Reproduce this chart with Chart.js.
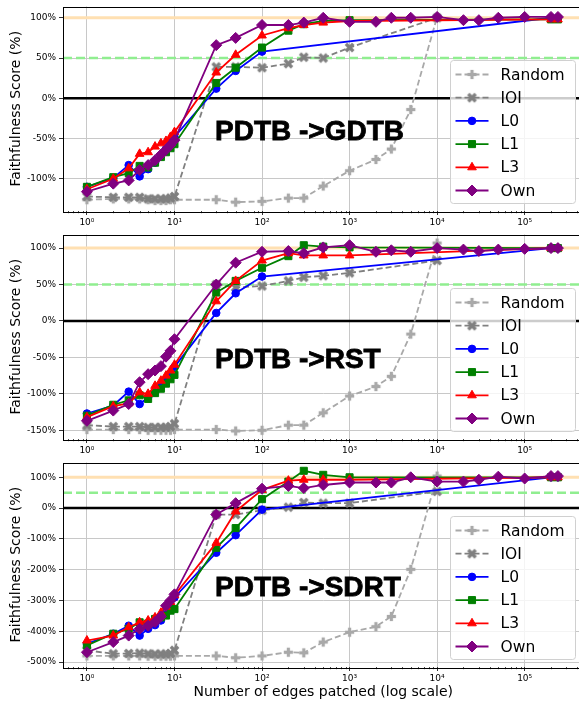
<!DOCTYPE html>
<html>
<head>
<meta charset="utf-8">
<script src="https://cdn.jsdelivr.net/npm/chart.js@4.4.0/dist/chart.umd.min.js"></script>
<style>
html, body { margin: 0; padding: 0; background: #fff; overflow: hidden; }
#wrap { position: relative; width: 579px; height: 705px; overflow: hidden; }
#wrap canvas { position: absolute; left: 0; }
</style>
</head>
<body>
<div id="wrap">
  <canvas id="c0" width="590" height="228" style="top:0"></canvas>
  <canvas id="c1" width="590" height="228" style="top:228px"></canvas>
  <canvas id="c2" width="590" height="249" style="top:456px"></canvas>
</div>
<script>
// x positions (edges patched) for each method
var edgesAll = [1, 2, 3, 4, 5, 6, 7, 8, 9, 10, 30, 50, 100, 200, 300, 500, 1000, 2000, 3000, 5000, 10000, 20000, 30000, 50000, 100000, 200000, 240000];
var edgesRandom = [1, 2, 3, 4, 5, 6, 7, 8, 9, 10, 30, 50, 100, 200, 300, 500, 1000, 2000, 3000, 5000, 10000];
var edgesIOI = [1, 2, 3, 4, 5, 6, 7, 8, 9, 10, 30, 50, 100, 200, 300, 500, 1000, 10000];
var edgesL0 = [1, 2, 3, 4, 5, 6, 7, 8, 9, 10, 30, 50, 100, 200000, 240000];
var edgesL = [1, 2, 3, 4, 5, 6, 7, 8, 9, 10, 30, 50, 100, 200, 300, 500, 1000, 200000, 240000];

var seriesNames = ["Random", "IOI", "L0", "L1", "L3", "Own"];
var panelNames = ["PDTB ->GDTB", "PDTB ->RST", "PDTB ->SDRT"];

// PDTB -> GDTB
var random1 = [-126, -125, -125, -125, -126, -127, -127, -127, -126, -126, -126, -129, -128, -124, -124, -109, -90, -76, -63, -14, 101];
var ioi1 = [-122, -123, -123, -123, -125, -125, -125, -125, -124, -122, 39, 39, 38, 43, 51, 50, 63, 100];
var l0_1 = [-110, -99, -83, -97, -88, -80, -71, -63, -56, -48, 12, 34, 58, 100, 100];
var l1_1 = [-110, -98, -93, -84, -86, -80, -73, -67, -62, -57, 19, 38, 63, 84, 92, 96, 97, 98, 98];
var l3_1 = [-113, -100, -87, -69, -67, -60, -56, -53, -48, -42, 32, 54, 78, 87, 91, 94, 96, 98, 98];
var own1 = [-116, -106, -102, -89, -83, -77, -70, -64, -58, -52, 66, 75, 91, 91, 94, 100, 95, 95, 100, 100, 101, 97, 97, 100, 101, 101, 101];

// PDTB -> RST
var random2 = [-149, -149, -149, -149, -150, -150, -150, -150, -150, -149, -149, -151, -150, -143, -143, -126, -103, -90, -76, -18, 107];
var ioi2 = [-143, -145, -145, -145, -146, -146, -146, -146, -145, -141, 50, 46, 48, 55, 60, 62, 66, 83];
var l0_2 = [-127, -116, -97, -114, -105, -98, -90, -82, -72, -63, 11, 38, 61, 100, 100];
var l1_2 = [-130, -115, -109, -102, -107, -99, -93, -86, -80, -74, 39, 55, 73, 89, 104, 102, 101, 100, 100];
var l3_2 = [-132, -117, -113, -98, -100, -89, -82, -75, -68, -60, 27, 55, 83, 93, 90, 90, 90, 100, 100];
var own2 = [-137, -123, -114, -84, -73, -68, -62, -49, -41, -25, 50, 80, 95, 96, 93, 101, 104, 95, 97, 95, 100, 98, 96, 98, 99, 100, 100];

// PDTB -> SDRT
var random3 = [-480, -480, -480, -480, -481, -481, -481, -481, -481, -480, -480, -486, -480, -468, -470, -435, -403, -385, -352, -199, 104];
var ioi3 = [-462, -473, -472, -471, -473, -474, -474, -474, -472, -462, -21, -21, -7, 3, 18, 16, 16, 54];
var l0_3 = [-441, -408, -382, -414, -392, -380, -365, -345, -320, -290, -145, -88, -5, 100, 100];
var l1_3 = [-446, -408, -392, -371, -375, -360, -355, -349, -333, -328, -129, -65, 29, 86, 121, 108, 100, 100, 100];
var l3_3 = [-430, -414, -387, -371, -365, -355, -340, -320, -305, -283, -113, -11, 59, 89, 92, 92, 92, 100, 100];
var own3 = [-468, -435, -414, -392, -382, -370, -352, -317, -300, -280, -21, 16, 63, 72, 65, 75, 83, 83, 83, 100, 86, 86, 92, 102, 96, 104, 104];

var yTicks1 = [-100, -50, 0, 50, 100];
var yTicks2 = [-150, -100, -50, 0, 50, 100];
var yTicks3 = [-500, -400, -300, -200, -100, 0, 100];
var xTicks = [1, 10, 100, 1000, 10000, 100000];
var xTickLabels = ["10\u2070", "10\u00b9", "10\u00b2", "10\u00b3", "10\u2074", "10\u2075"];
var refValues = [100, 50, 0];

var panels = [
    { ys: [random1, ioi1, l0_1, l1_1, l3_1, own1], yTicks: yTicks1, yMin: -140, yMax: 114 },
    { ys: [random2, ioi2, l0_2, l1_2, l3_2, own2], yTicks: yTicks2, yMin: -162, yMax: 118.7 },
    { ys: [random3, ioi3, l0_3, l1_3, l3_3, own3], yTicks: yTicks3, yMin: -516, yMax: 148 }
];
var xsList = [edgesRandom, edgesIOI, edgesL0, edgesL, edgesL, edgesAll];

Chart.defaults.color = "#000";
Chart.defaults.font.family = "DejaVu Sans";

// filled plus / X markers like matplotlib 'P' and 'X'
function plusMarker(color, rot, a, b) {
    var s = 13;
    var c = document.createElement("canvas");
    c.width = s;
    c.height = s;
    var g = c.getContext("2d");
    g.translate(s / 2, s / 2);
    g.rotate(rot);
    g.fillStyle = color;
    g.fillRect(-a, -b, 2 * a, 2 * b);
    g.fillRect(-b, -a, 2 * b, 2 * a);
    return c;
}

var styles = [
    { color: "#a9a9a9", point: plusMarker("#a9a9a9", 0, 4.6, 1.6), r: 4, dash: [6, 3] },
    { color: "#808080", point: plusMarker("#808080", Math.PI / 4, 5.2, 1.7), r: 4, dash: [6, 3] },
    { color: "#0000ff", point: "circle", r: 3.8, dash: [] },
    { color: "#008000", point: "rect", r: 5, dash: [] },
    { color: "#ff0000", point: "triangle", r: 5, dash: [] },
    { color: "#800080", point: "rectRot", r: 5.5, dash: [] }
];

function drawMarker(ctx, st, x, y) {
    ctx.save();
    ctx.setLineDash([]);
    ctx.fillStyle = st.color;
    ctx.strokeStyle = st.color;
    ctx.lineWidth = 1;
    Chart.helpers.drawPoint(ctx, { pointStyle: st.point, radius: st.r, rotation: 0, borderWidth: 1 }, x, y);
    ctx.restore();
}

var panelPlugin = {
    id: "panelDeco",
    beforeDatasetsDraw: function(chart) {
        var ctx = chart.ctx, a = chart.chartArea, ys = chart.scales.y;
        ctx.save();
        ctx.beginPath();
        ctx.rect(a.left, a.top, a.right - a.left, a.bottom - a.top);
        ctx.clip();
        // 100% line
        ctx.strokeStyle = "#ffe0b2";
        ctx.lineWidth = 3;
        var py = ys.getPixelForValue(refValues[0]);
        ctx.beginPath(); ctx.moveTo(a.left, py); ctx.lineTo(a.right, py); ctx.stroke();
        // 50% line
        ctx.strokeStyle = "#90ee90";
        ctx.lineWidth = 2.5;
        ctx.setLineDash([9, 4]);
        py = ys.getPixelForValue(refValues[1]);
        ctx.beginPath(); ctx.moveTo(a.left, py); ctx.lineTo(a.right, py); ctx.stroke();
        ctx.setLineDash([]);
        // 0 line
        ctx.strokeStyle = "#000";
        ctx.lineWidth = 2.5;
        py = ys.getPixelForValue(refValues[2]);
        ctx.beginPath(); ctx.moveTo(a.left, py); ctx.lineTo(a.right, py); ctx.stroke();
        ctx.restore();
    },
    afterDatasetsDraw: function(chart, args, opts) {
        var ctx = chart.ctx, a = chart.chartArea;
        ctx.save();
        // big dataset label
        ctx.font = "bold 28px 'Liberation Sans'";
        ctx.fillStyle = "#000";
        ctx.strokeStyle = "#000";
        ctx.lineWidth = 0.8;
        ctx.textBaseline = "alphabetic";
        ctx.textAlign = "left";
        ctx.fillText(opts.name, a.left + 152, a.top + 133);
        ctx.strokeText(opts.name, a.left + 152, a.top + 133);

        // legend box
        var bx = a.right - 133, by = a.top + 54, bw = 125, bh = 143;
        ctx.beginPath();
        if (ctx.roundRect) ctx.roundRect(bx, by, bw, bh, 3); else ctx.rect(bx, by, bw, bh);
        ctx.fillStyle = "rgba(255,255,255,0.8)";
        ctx.fill();
        ctx.strokeStyle = "#d0d0d0";
        ctx.lineWidth = 1;
        ctx.stroke();
        ctx.font = "15.5px 'DejaVu Sans'";
        ctx.textBaseline = "middle";
        for (var i = 0; i < seriesNames.length; i++) {
            var st = styles[i];
            var ry = by + 14 + i * 23.2;
            ctx.strokeStyle = st.color;
            ctx.lineWidth = 1.8;
            ctx.setLineDash(st.dash);
            ctx.beginPath(); ctx.moveTo(bx + 5, ry); ctx.lineTo(bx + 38, ry); ctx.stroke();
            ctx.setLineDash([]);
            drawMarker(ctx, st, bx + 21.5, ry);
            ctx.fillStyle = "#000";
            ctx.fillText(seriesNames[i], bx + 50, ry + 1);
        }
        ctx.restore();
    },
    afterDraw: function(chart) {
        var ctx = chart.ctx, a = chart.chartArea, xs = chart.scales.x;
        ctx.save();
        // minor ticks on log axis
        ctx.strokeStyle = "#000";
        ctx.lineWidth = 0.7;
        for (var k = -1; k <= 6; k++) {
            for (var m = 2; m <= 9; m++) {
                var v = m * Math.pow(10, k);
                if (v < xs.min || v > xs.max) continue;
                var px = Math.round(xs.getPixelForValue(v)) + 0.5;
                ctx.beginPath(); ctx.moveTo(px, a.bottom); ctx.lineTo(px, a.bottom + 2.2); ctx.stroke();
            }
        }
        // frame
        ctx.lineWidth = 1;
        ctx.strokeRect(Math.round(a.left) + 0.5, Math.round(a.top) + 0.5, Math.round(a.right - a.left), Math.round(a.bottom - a.top));
        ctx.restore();
    }
};

function makePanel(idx) {
    var p = panels[idx];
    var isLast = idx === panels.length - 1;
    var datasets = p.ys.map(function(ys, i) {
        var st = styles[i];
        return {
            label: seriesNames[i],
            data: xsList[i].map(function(x, j) { return { x: x, y: ys[j] }; }),
            borderColor: st.color,
            backgroundColor: st.color,
            pointBackgroundColor: st.color,
            pointBorderColor: st.color,
            pointStyle: st.point,
            pointRadius: st.r,
            pointBorderWidth: 1,
            borderWidth: 1.8,
            borderDash: st.dash,
            tension: 0,
            order: seriesNames.length - i
        };
    });
    new Chart(document.getElementById("c" + idx), {
        type: "line",
        data: { datasets: datasets },
        options: {
            responsive: false,
            animation: false,
            layout: { padding: { top: 5, right: 5, left: 0, bottom: 0 } },
            plugins: {
                legend: { display: false },
                tooltip: { enabled: false },
                panelDeco: { name: panelNames[idx] }
            },
            scales: {
                x: {
                    type: "logarithmic",
                    min: 0.533,
                    max: 470000,
                    afterBuildTicks: function(s) {
                        s.ticks = xTicks.map(function(v) { return { value: v }; });
                    },
                    ticks: {
                        autoSkip: false,
                        maxRotation: 0,
                        padding: 2,
                        font: { size: 9 },
                        callback: function(v, i) { return xTickLabels[i]; }
                    },
                    grid: { color: "#c8c8c8", lineWidth: 1, tickColor: "#000", tickLength: 4, tickWidth: 0.8 },
                    border: { display: false },
                    title: {
                        display: isLast,
                        text: "Number of edges patched (log scale)",
                        font: { size: 14 },
                        padding: { top: 0, bottom: 4 }
                    },
                    afterFit: function(s) {
                        s.height = isLast ? 38 : 17;
                        s.paddingLeft = 0;
                        s.paddingRight = 0;
                    }
                },
                y: {
                    type: "linear",
                    min: p.yMin,
                    max: p.yMax,
                    afterBuildTicks: function(s) {
                        s.ticks = p.yTicks.map(function(v) { return { value: v }; });
                    },
                    ticks: {
                        padding: 3,
                        font: { size: 9 },
                        callback: function(v) { return v + "%"; }
                    },
                    grid: { color: "#c8c8c8", lineWidth: 1, tickColor: "#000", tickLength: 4, tickWidth: 0.8 },
                    border: { display: false },
                    title: {
                        display: true,
                        text: "Faithfulness Score (%)",
                        font: { size: 14 },
                        padding: { top: 7.5, bottom: 0 }
                    },
                    afterFit: function(s) {
                        s.width = 63;
                        s.paddingTop = 0;
                        s.paddingBottom = 0;
                    }
                }
            }
        },
        plugins: [panelPlugin]
    });
}

for (var i = 0; i < panels.length; i++) makePanel(i);
</script>
</body>
</html>
